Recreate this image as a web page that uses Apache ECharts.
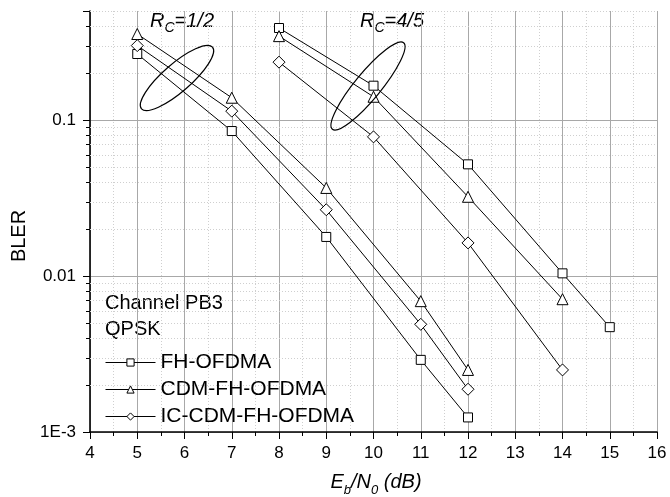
<!DOCTYPE html>
<html>
<head>
<meta charset="utf-8">
<script src="https://cdn.jsdelivr.net/npm/echarts@6/dist/echarts.min.js"></script>
<style>
  html, body { margin: 0; padding: 0; background: #fff; }
  #chart { width: 670px; height: 497px; }
</style>
</head>
<body>
<div id="chart"></div>
<script>
// Eb/N0 points, Rc = 1/2
var ebn0Half = [5, 7, 9, 11, 12];
var fhHalf  = [0.265, 0.085, 0.0178, 0.0029, 0.00124];
var cdmHalf = [0.356, 0.139, 0.0367, 0.0069, 0.0025];
var icHalf  = [0.30, 0.114, 0.0266, 0.0049, 0.00188];

// Eb/N0 points, Rc = 4/5
var ebn0FourFh = [8, 10, 12, 14, 15];
var ebn0Four = [8, 10, 12, 14];
var fhFour  = [0.389, 0.166, 0.052, 0.0104, 0.0047];
var cdmFour = [0.345, 0.141, 0.0322, 0.0071];
var icFour  = [0.235, 0.078, 0.0163, 0.0025];

var legendNames = ['FH-OFDMA', 'CDM-FH-OFDMA', 'IC-CDM-FH-OFDMA'];
// minor log grid lines
var minorY = [0.002, 0.003, 0.004, 0.005, 0.006, 0.007, 0.008, 0.009,
              0.02, 0.03, 0.04, 0.05, 0.06, 0.07, 0.08, 0.09,
              0.2, 0.3, 0.4, 0.5];

var FONT = '"Liberation Sans", Arial, sans-serif';

function pairs(xs, ys) {
  return xs.map(function (x, i) { return [x, ys[i]]; });
}

function lineSeries(name, symbol, size, xs, ys) {
  return {
    name: name,
    type: 'line',
    data: pairs(xs, ys),
    symbol: symbol,
    symbolSize: size,
    showAllSymbol: true,
    lineStyle: { color: '#000', width: 1 },
    itemStyle: { color: '#fff', borderColor: '#000', borderWidth: 1 },
    emphasis: { disabled: true },
    z: 5
  };
}

// R_c label in rich text
function rcLabel(x, rate) {
  return {
    type: 'text', x: x, y: 21,
    style: {
      text: '{i|R}{s|C}{i|=' + rate + '}',
      verticalAlign: 'middle',
      rich: {
        i: { fontSize: 20, fontStyle: 'italic', fontFamily: FONT, fill: '#000', lineHeight: 28 },
        s: { fontSize: 14, fontStyle: 'italic', fontFamily: FONT, fill: '#000', lineHeight: 14, verticalAlign: 'bottom' }
      }
    }
  };
}

var chart = echarts.init(document.getElementById('chart'));

var option = {
  animation: false,
  textStyle: { fontFamily: FONT },
  grid: { left: 90, right: 13, top: 11, bottom: 65 },
  xAxis: {
    type: 'value',
    min: 4,
    max: 16,
    interval: 1,
    axisLine: { lineStyle: { color: '#000', width: 1.6 } },
    axisTick: { inside: false, length: 7, lineStyle: { color: '#000' } },
    minorTick: { show: true, splitNumber: 2, length: 4, lineStyle: { color: '#000' } },
    axisLabel: { color: '#000', fontSize: 17, margin: 13, fontFamily: FONT },
    splitLine: { show: true, lineStyle: { color: '#a8a8a8', width: 1 } },
    minorSplitLine: { show: true, lineStyle: { color: '#cfcfcf', type: [1, 2] } }
  },
  yAxis: {
    type: 'log',
    logBase: 10,
    min: 0.001,
    max: 0.5,
    axisLine: { show: true, lineStyle: { color: '#000', width: 1.6 } },
    axisTick: { show: true, length: 7, lineStyle: { color: '#000' } },
    axisLabel: {
      color: '#000', fontSize: 17, margin: 14, fontFamily: FONT,
      formatter: function (v) {
        if (Math.abs(v - 0.001) < 1e-6) return '1E-3';
        if (Math.abs(v - 0.01) < 1e-6) return '0.01';
        if (Math.abs(v - 0.1) < 1e-6) return '0.1';
        return '';
      }
    },
    splitLine: { show: true, showMaxLine: false, lineStyle: { color: '#a8a8a8', width: 1 } }
  },
  legend: {
    data: legendNames,
    orient: 'vertical',
    left: 100,
    top: 347,
    itemWidth: 50,
    itemHeight: 9,
    itemGap: 6,
    selectedMode: false,
    lineStyle: { width: 1, color: '#000' },
    itemStyle: { color: '#fff', borderColor: '#000', borderWidth: 1 },
    textStyle: { color: '#000', fontSize: 21, fontFamily: FONT }
  },
  graphic: [
    {
      type: 'text', left: 105, top: 290,
      style: { text: 'Channel PB3\nQPSK', font: '20px ' + FONT, fill: '#000', lineHeight: 26 }
    },
    {
      type: 'text', x: 19, y: 236, rotation: Math.PI / 2,
      style: { text: 'BLER', font: '20px ' + FONT, fill: '#000', align: 'center', verticalAlign: 'middle' }
    },
    {
      type: 'text', x: 376, y: 482,
      style: {
        text: '{i|E}{s|b}{i|/N}{s|0}{i| (dB)}',
        align: 'center', verticalAlign: 'middle',
        rich: {
          i: { fontSize: 20, fontStyle: 'italic', fontFamily: FONT, fill: '#000', lineHeight: 30 },
          s: { fontSize: 13, fontStyle: 'italic', fontFamily: FONT, fill: '#000', lineHeight: 13, verticalAlign: 'bottom' }
        }
      }
    },
    rcLabel(150, '1/2'),
    rcLabel(360, '4/5'),
    {
      type: 'ellipse', x: 177, y: 78, rotation: 41 * Math.PI / 180,
      shape: { cx: 0, cy: 0, rx: 47, ry: 14 },
      style: { fill: 'none', stroke: '#000', lineWidth: 1.2 }, z: 10
    },
    {
      type: 'ellipse', x: 368, y: 86, rotation: 50.5 * Math.PI / 180,
      shape: { cx: 0, cy: 0, rx: 56, ry: 13 },
      style: { fill: 'none', stroke: '#000', lineWidth: 1.2 }, z: 10
    }
  ],
  series: [
    {
      type: 'custom',
      silent: true,
      data: minorY.map(function (v) { return [4, v]; }),
      encode: { x: 0, y: 1 },
      renderItem: function (params, api) {
        var cs = params.coordSys;
        var y = Math.round(api.coord([4, api.value(1)])[1]) + 0.5;
        return {
          type: 'group',
          children: [
            {
              type: 'line',
              shape: { x1: cs.x, y1: y, x2: cs.x + cs.width, y2: y },
              style: { stroke: '#cfcfcf', lineWidth: 1, lineDash: [1, 2] }
            },
            {
              type: 'line',
              shape: { x1: cs.x - 4, y1: y, x2: cs.x, y2: y },
              style: { stroke: '#000', lineWidth: 1 }
            }
          ]
        };
      },
      z: 1
    },
    lineSeries('FH-OFDMA', 'rect', 9, ebn0Half, fhHalf),
    lineSeries('CDM-FH-OFDMA', 'triangle', 11, ebn0Half, cdmHalf),
    lineSeries('IC-CDM-FH-OFDMA', 'diamond', 12, ebn0Half, icHalf),
    lineSeries('FH-OFDMA', 'rect', 9, ebn0FourFh, fhFour),
    lineSeries('CDM-FH-OFDMA', 'triangle', 11, ebn0Four, cdmFour),
    lineSeries('IC-CDM-FH-OFDMA', 'diamond', 12, ebn0Four, icFour)
  ]
};

chart.setOption(option);
</script>
</body>
</html>
